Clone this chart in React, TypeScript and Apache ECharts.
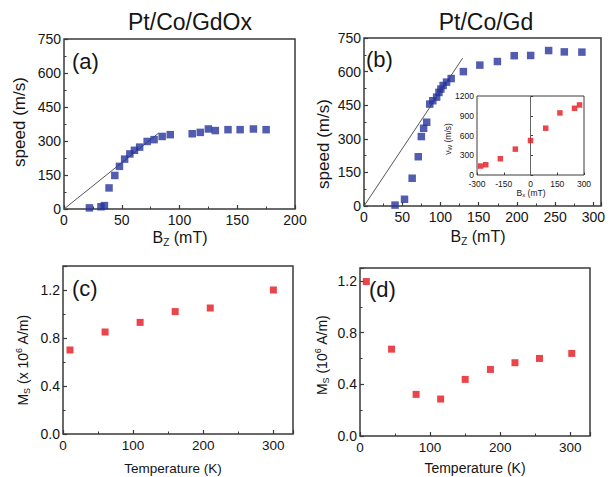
import React, { useEffect, useRef } from "react";
import * as echarts from "echarts";

// ---- data ----
const aBz = [22, 32, 35, 39, 44, 48, 52.5, 57, 61, 65.5, 72, 78, 85, 92, 111, 118, 125, 131, 142, 152.5, 164, 175];
const aSpeed = [5, 10, 15, 93, 148, 188, 220, 243, 259, 273, 298, 306, 320, 328, 332, 338, 353, 346, 350, 350, 353, 350];
const aFitB = [0, 82];
const aFitV = [0, 335];

const bBz = [40.6, 53, 63, 71, 75, 78, 82, 86, 90, 95, 98, 100.5, 103.5, 108, 114, 130, 151.5, 174.5, 196.5, 218, 241.5, 262, 285];
const bSpeed = [4, 30, 124, 220, 310, 347, 374, 455, 470, 486, 507, 522, 538, 553, 569, 600, 629, 645, 671, 672, 694, 688, 687];
const bFitB = [0, 129];
const bFitV = [0, 660];

const insetBx = [-280, -251, -169, -85, 0, 85, 165, 247, 275];
const insetVw = [136, 156, 247, 393, 524, 711, 943, 1013, 1064];
const insetZeroY = [0, 1200];

const cTemp = [10, 60, 110, 160, 210, 300];
const cMs = [0.7, 0.85, 0.93, 1.02, 1.05, 1.2];

const dTemp = [9, 45, 80, 115, 150, 186, 221, 256, 302];
const dMs = [1.195, 0.672, 0.322, 0.286, 0.438, 0.515, 0.567, 0.6, 0.639];

const FONT = '"Liberation Sans", Arial, Helvetica, sans-serif';
const BLUE = "#27359b";
const RED = "#e3161d";
const FRAME = "#3a3a3a";
const TXT = "#151515";

const zip = (xs: number[], ys: number[]) => xs.map((x, i) => [x, ys[i]]);

function onStep(v: number, step: number) {
  const r = v / step;
  return Math.abs(r - Math.round(r)) < 1e-6;
}

function axis(
  gridIndex: number,
  min: number,
  max: number,
  interval: number,
  fontSize: number,
  margin: number,
  fmt: (v: number) => string,
  minor = true
) {
  return {
    type: "value",
    gridIndex,
    min,
    max,
    interval,
    axisLine: { show: false },
    splitLine: { show: false },
    axisTick: { show: true, inside: true, length: 4, lineStyle: { color: FRAME, width: 1.2 } },
    minorTick: { show: minor, splitNumber: 2, length: 2.5, lineStyle: { color: FRAME, width: 1 } },
    axisLabel: {
      fontSize,
      fontFamily: FONT,
      color: TXT,
      margin,
      lineHeight: fontSize,
      formatter: (v: number) => (onStep(v, interval) ? fmt(v) : ""),
    },
  };
}

const gridBase = { show: true, borderColor: FRAME, borderWidth: 1.5, backgroundColor: "transparent" };

function txt(text: string, x: number, y: number, fontSize: number, opts: any = {}) {
  return {
    type: "text",
    x,
    y,
    rotation: opts.rotation || 0,
    style: {
      text,
      fontSize,
      fontFamily: FONT,
      fill: TXT,
      align: opts.align || "center",
      verticalAlign: "middle",
      rich: opts.rich,
    },
  };
}

function subRich(fs: number) {
  const small = Math.max(6, Math.round(fs * 0.62));
  const lh = Math.round(fs * 1.22);
  return {
    n: { fontSize: fs, fontFamily: FONT, color: TXT, lineHeight: lh, verticalAlign: "middle" },
    s: { fontSize: small, fontFamily: FONT, color: TXT, lineHeight: small, verticalAlign: "bottom" },
    p: { fontSize: small, fontFamily: FONT, color: TXT, lineHeight: small, verticalAlign: "top" },
  };
}

export default function App() {
  const ref = useRef<HTMLDivElement>(null);
  useEffect(() => {
    if (!ref.current) return;
    const chart = echarts.init(ref.current, null, { renderer: "svg" });
    const f0 = (v: number) => String(Math.round(v));
    const f1 = (v: number) => v.toFixed(1);
    const insetTick = { show: true, inside: true, length: 2.5, lineStyle: { color: FRAME } };
    const option: any = {
      animation: false,
      backgroundColor: "#ffffff",
      grid: [
        { ...gridBase, left: 64, top: 39, width: 231, height: 170 },
        { ...gridBase, left: 364, top: 38, width: 237, height: 168 },
        { ...gridBase, left: 477, top: 96, width: 107, height: 79, borderWidth: 1 },
        { ...gridBase, left: 63, top: 266, width: 230, height: 168 },
        { ...gridBase, left: 360, top: 268, width: 230, height: 168 },
      ],
      xAxis: [
        axis(0, 0, 200, 50, 14, 4, f0),
        axis(1, 0, 310, 50, 14, 4, f0),
        { ...axis(2, -300, 300, 150, 8.5, 5, f0, false), axisTick: insetTick },
        axis(3, 0, 328, 100, 13.5, 5, f0),
        axis(4, 0, 328, 100, 13.5, 5, f0),
      ],
      yAxis: [
        axis(0, 0, 750, 150, 14, 3, f0),
        axis(1, 0, 750, 150, 14, 3, f0),
        { ...axis(2, 0, 1200, 300, 8.5, 3, f0, false), axisTick: insetTick },
        axis(3, 0, 1.4, 0.4, 14, 3, f1),
        axis(4, 0, 1.3, 0.4, 14, 3, f1),
      ],
      series: [
        {
          type: "line",
          xAxisIndex: 0,
          yAxisIndex: 0,
          data: zip(aFitB, aFitV),
          symbol: "none",
          lineStyle: { color: "#555", width: 1 },
          z: 1,
        },
        {
          type: "scatter",
          xAxisIndex: 0,
          yAxisIndex: 0,
          data: zip(aBz, aSpeed),
          symbol: "rect",
          symbolSize: 7.5,
          itemStyle: { color: BLUE },
        },
        {
          type: "line",
          xAxisIndex: 1,
          yAxisIndex: 1,
          data: zip(bFitB, bFitV),
          symbol: "none",
          lineStyle: { color: "#555", width: 1 },
          z: 1,
        },
        {
          type: "scatter",
          xAxisIndex: 1,
          yAxisIndex: 1,
          data: zip(bBz, bSpeed),
          symbol: "rect",
          symbolSize: 7.5,
          itemStyle: { color: BLUE },
        },
        {
          type: "line",
          xAxisIndex: 2,
          yAxisIndex: 2,
          data: insetZeroY.map((y) => [0, y]),
          symbol: "none",
          lineStyle: { color: "#666", width: 1 },
          z: 1,
        },
        {
          type: "scatter",
          xAxisIndex: 2,
          yAxisIndex: 2,
          data: zip(insetBx, insetVw),
          symbol: "rect",
          symbolSize: 5.5,
          itemStyle: { color: RED },
        },
        {
          type: "scatter",
          xAxisIndex: 3,
          yAxisIndex: 3,
          data: zip(cTemp, cMs),
          symbol: "rect",
          symbolSize: 7,
          itemStyle: { color: RED },
        },
        {
          type: "scatter",
          xAxisIndex: 4,
          yAxisIndex: 4,
          data: zip(dTemp, dMs),
          symbol: "rect",
          symbolSize: 7,
          itemStyle: { color: RED },
        },
      ],
      graphic: [
        txt("Pt/Co/GdOx", 190, 22, 23),
        txt("Pt/Co/Gd", 486, 22, 23),
        txt("(a)", 72, 61, 22, { align: "left" }),
        txt("(b)", 366, 59, 22, { align: "left" }),
        txt("(c)", 72, 288, 22, { align: "left" }),
        txt("(d)", 369, 289, 22, { align: "left" }),
        txt("speed (m/s)", 19, 122, 17, { rotation: Math.PI / 2 }),
        txt("speed (m/s)", 323, 144, 17, { rotation: Math.PI / 2 }),
        txt("{n|B}{s|Z}{n| (mT)}", 180, 237, 16, { rich: subRich(16) }),
        txt("{n|B}{s|Z}{n| (mT)}", 478, 236, 16, { rich: subRich(16) }),
        txt("{n|v}{s|W}{n| (m/s)}", 448, 139, 8.5, { rotation: Math.PI / 2, rich: subRich(8.5) }),
        txt("{n|B}{s|x}{n| (mT)}", 531, 193, 8.5, { rich: subRich(8.5) }),
        txt("Temperature (K)", 173, 468, 13.5),
        txt("Temperature (K)", 475, 468, 14),
        txt("{n|M}{s|S}{n| (x 10}{p|6}{n| A/m)}", 23, 360, 14, { rotation: Math.PI / 2, rich: subRich(14) }),
        txt("{n|M}{s|S}{n| (10}{p|6}{n| A/m)}", 322, 355, 14, { rotation: Math.PI / 2, rich: subRich(14) }),
      ],
    };
    chart.setOption(option);
    return () => chart.dispose();
  }, []);
  return (
    <div
      ref={ref}
      style={{ position: "fixed", left: 0, top: 0, width: 612, height: 477, background: "#fff" }}
    />
  );
}
